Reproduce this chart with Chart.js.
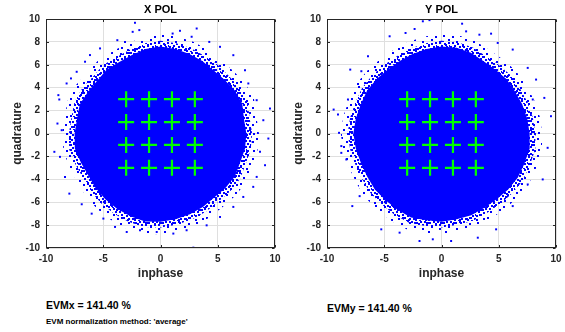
<!DOCTYPE html>
<html>
<head>
<meta charset="utf-8">
<script src="https://cdn.jsdelivr.net/npm/chart.js@4.4.1/dist/chart.umd.min.js"></script>
<style>
  html, body { margin: 0; padding: 0; background: #fff; width: 565px; height: 332px; overflow: hidden; }
  body { position: relative; font-family: "Liberation Sans", Arial, sans-serif; }
  .panel { position: absolute; top: 0; width: 290px; height: 290px; }
  #panelX { left: 0; }
  #panelY { left: 281px; }
  .note { position: absolute; font-weight: bold; color: #000; white-space: nowrap; }
  #evmx { left: 46px; top: 299px; font-size: 10.5px; line-height: 12px; }
  #evmnorm { left: 46px; top: 317px; font-size: 8px; line-height: 9px; }
  #evmy { left: 327px; top: 302px; font-size: 10.5px; line-height: 12px; }
</style>
</head>
<body>
<div class="panel" id="panelX"><canvas id="chartX" width="290" height="290"></canvas></div>
<div class="panel" id="panelY"><canvas id="chartY" width="290" height="290"></canvas></div>
<div class="note" id="evmx"></div>
<div class="note" id="evmnorm"></div>
<div class="note" id="evmy"></div>

<script>
// ---- constellation reference points (16-QAM grid) ----
const idealI = [-3, -1, 1, 3];
const idealQ = [3, 1, -1, -3];

// ---- axis ticks ----
const inphaseTicks = [-10, -5, 0, 5, 10];
const quadratureTicks = [-10, -8, -6, -4, -2, 0, 2, 4, 6, 8, 10];

// ---- received-symbol cloud outline: radius at each bearing ----
const edgeBearingDeg = [0, 10, 20, 30, 40, 50, 60, 70, 80, 90, 100, 110, 120, 130, 140, 150, 160, 170,
                        180, 190, 200, 210, 220, 230, 240, 250, 260, 270, 280, 290, 300, 310, 320, 330, 340, 350];

// X polarisation: solid core, dense fringe, sparse fringe
const xCoreR   = [7.5, 7.4, 7.6, 7.5, 7.3, 7.2, 7.3, 7.4, 7.5, 7.6, 7.5, 7.3, 7.2, 7.3, 7.2, 7.3, 7.5, 7.4,
                  7.5, 7.6, 7.4, 7.3, 7.4, 7.5, 7.6, 7.7, 7.8, 7.7, 7.6, 7.5, 7.4, 7.3, 7.4, 7.5, 7.4, 7.5];
const xDenseR  = [8.0, 7.9, 8.1, 8.0, 7.8, 7.8, 7.8, 7.9, 8.0, 8.1, 8.0, 7.8, 7.7, 7.8, 7.7, 7.9, 8.0, 7.9,
                  8.0, 8.1, 7.9, 7.8, 7.9, 8.0, 8.1, 8.2, 8.3, 8.2, 8.1, 8.0, 7.9, 7.8, 7.9, 8.0, 7.9, 8.0];
const xSparseR = [8.6, 8.5, 8.7, 8.6, 8.4, 8.3, 8.4, 8.5, 8.6, 8.7, 8.5, 8.4, 8.3, 8.4, 8.3, 8.5, 8.6, 8.5,
                  8.6, 8.6, 8.5, 8.4, 8.5, 8.6, 8.7, 8.8, 8.9, 8.8, 8.7, 8.6, 8.5, 8.4, 8.5, 8.6, 8.5, 8.6];

// Y polarisation
const yCoreR   = [7.7, 7.6, 7.5, 7.4, 7.4, 7.3, 7.3, 7.5, 7.6, 7.6, 7.5, 7.4, 7.3, 7.3, 7.4, 7.5, 7.5, 7.6,
                  7.7, 7.6, 7.5, 7.5, 7.6, 7.6, 7.7, 7.8, 7.7, 7.7, 7.6, 7.6, 7.5, 7.5, 7.6, 7.7, 7.7, 7.8];
const yDenseR  = [8.2, 8.1, 8.0, 7.9, 7.9, 7.8, 7.8, 8.0, 8.1, 8.1, 8.0, 7.9, 7.8, 7.8, 7.9, 8.0, 8.0, 8.1,
                  8.2, 8.1, 8.0, 8.0, 8.1, 8.1, 8.2, 8.3, 8.2, 8.2, 8.1, 8.1, 8.0, 8.0, 8.1, 8.2, 8.2, 8.3];
const ySparseR = [8.8, 8.7, 8.6, 8.5, 8.5, 8.4, 8.4, 8.6, 8.7, 8.7, 8.6, 8.5, 8.4, 8.4, 8.5, 8.6, 8.6, 8.7,
                  8.8, 8.7, 8.6, 8.6, 8.7, 8.7, 8.8, 8.9, 8.8, 8.8, 8.7, 8.7, 8.6, 8.6, 8.7, 8.8, 8.8, 8.9];

// ---- isolated outlying symbols [inphase, quadrature] ----
const xOutliers = [
  [-2.23, 9.67], [-2.43, 8.88], [-1.85, 9.03], [-3.1, 8.0], [-3.77, 8.15], [1.70, 8.97], [1.06, 8.73],
  [3.16, 9.17], [2.72, 8.45], [4.26, 8.0], [5.2, 7.57], [6.36, 6.84], [7.38, 5.53], [7.67, 4.37],
  [8.4, 2.91], [9.56, 2.18], [8.98, 1.16], [9.42, -0.44], [8.69, -1.6], [9.13, -2.77], [8.4, -3.79],
  [8.1, -4.66], [7.23, -5.54], [6.36, -6.41], [5.2, -7.29], [4.03, -8.02], [2.87, -9.97], [2.28, -8.45],
  [1.12, -8.74], [-0.33, -8.6], [-1.79, -8.45], [-2.95, -8.6], [-3.97, -8.16], [-4.99, -7.43],
  [-6.01, -7.0], [-6.88, -6.18], [-7.96, -5.25], [-8.34, -3.79], [-8.78, -2.04], [-9.27, -1.6],
  [-9.0, 0.87], [-8.63, 0.29], [-8.84, 2.97], [-8.92, 3.35], [-8.2, 4.37], [-7.82, 4.81],
  [-7.32, 5.39], [-6.59, 6.27], [-6.16, 6.85], [-5.28, 7.43]
];
const yOutliers = [
  [-1.63, 9.8], [-1.05, 9.9], [1.8, 9.59], [-4.53, 8.49], [-3.14, 8.78], [-2.35, 9.13], [4.33, 8.72],
  [4.91, 7.91], [-7.97, 5.58], [-7.0, 5.44], [-9.42, 2.09], [-9.04, 1.66], [-8.95, 0.06], [-8.75, -1.69],
  [-8.31, -2.27], [-7.79, -6.34], [-7.15, -5.47], [-5.26, -8.37], [-3.66, -8.66], [-1.92, -9.39],
  [0.84, -9.39], [3.17, -9.1], [6.22, -6.34], [7.53, -4.45], [8.84, -4.01], [9.56, 1.51], [8.98, 3.11],
  [8.26, 4.71], [7.53, 5.73], [6.22, 7.33], [-6.42, 6.74], [-8.75, -1.1], [9.27, -1.25], [2.15, 8.92],
  [3.31, 8.63], [-0.76, -9.24], [4.77, -8.37], [7.97, 2.97], [-8.17, 2.97]
];

// ---- EVM results ----
const evmX = 141.40;
const evmY = 141.40;
const evmMethod = 'average';

document.getElementById('evmx').textContent = 'EVMx = ' + evmX.toFixed(2) + ' %';
document.getElementById('evmnorm').textContent = "EVM normalization method: '" + evmMethod + "'";
document.getElementById('evmy').textContent = 'EVMy = ' + evmY.toFixed(2) + ' %';

// ---- helpers ----
const BLUE = '#0000ff';
const GREEN = '#00ff00';
const INK = '#262626';
Chart.defaults.font.family = '"Liberation Sans", Arial, sans-serif';

function outline(radii) {
  const pts = radii.map((r, i) => {
    const a = edgeBearingDeg[i] * Math.PI / 180;
    return { x: r * Math.cos(a), y: r * Math.sin(a) };
  });
  pts.push({ x: pts[0].x, y: pts[0].y });
  return pts;
}

// speckled fills for the thinning edge of the cloud
function dotPattern(size, dots) {
  const c = document.createElement('canvas');
  c.width = c.height = size;
  const g = c.getContext('2d');
  g.fillStyle = BLUE;
  dots.forEach(([px, py]) => g.fillRect(px, py, 2, 2));
  return g.createPattern(c, 'repeat');
}
const denseFill = dotPattern(13, [[0, 0], [5, 1], [9, 0], [2, 3], [7, 4], [11, 3], [4, 6], [0, 7],
                                  [9, 7], [6, 9], [2, 10], [11, 10], [8, 12], [4, 11], [12, 6], [3, 1]]);
const sparseFill = dotPattern(17, [[1, 2], [9, 1], [14, 5], [5, 7], [11, 10], [2, 13], [8, 15], [15, 14]]);

const idealPoints = [];
idealQ.forEach(q => idealI.forEach(i => idealPoints.push({ x: i, y: q })));

// frame box, inward tick marks and panel title
const framePlugin = {
  id: 'frame',
  afterDraw(chart, args, opts) {
    const { ctx, chartArea: a, scales } = chart;
    ctx.save();
    ctx.strokeStyle = INK;
    ctx.lineWidth = 1;
    const L = Math.round(a.left) + 0.5, T = Math.round(a.top) + 0.5;
    const R = Math.round(a.right) - 0.5, B = Math.round(a.bottom) - 0.5;
    ctx.strokeRect(L, T, R - L, B - T);
    ctx.beginPath();
    scales.x.ticks.forEach(t => {
      const px = Math.round(scales.x.getPixelForValue(t.value)) + 0.5;
      ctx.moveTo(px, B); ctx.lineTo(px, B - 2.5);
      ctx.moveTo(px, T); ctx.lineTo(px, T + 2.5);
    });
    scales.y.ticks.forEach(t => {
      const py = Math.round(scales.y.getPixelForValue(t.value)) + 0.5;
      ctx.moveTo(L, py); ctx.lineTo(L + 2.5, py);
      ctx.moveTo(R, py); ctx.lineTo(R - 2.5, py);
    });
    ctx.stroke();
    ctx.fillStyle = '#000';
    ctx.font = 'bold 11px "Liberation Sans", Arial, sans-serif';
    ctx.textAlign = 'center';
    ctx.textBaseline = 'middle';
    ctx.fillText(opts.text, (a.left + a.right) / 2, 10);
    ctx.restore();
  }
};

function makeChart(canvasId, title, coreR, denseR, sparseR, outliers) {
  return new Chart(document.getElementById(canvasId), {
    type: 'scatter',
    data: {
      datasets: [
        { label: 'reference', data: idealPoints, pointStyle: 'cross', pointRadius: 8,
          borderColor: GREEN, borderWidth: 2.2, backgroundColor: GREEN },
        { label: 'outliers', data: outliers.map(([x, y]) => ({ x, y })), pointStyle: 'rect',
          pointRadius: 1.4, borderWidth: 0, backgroundColor: BLUE },
        { label: 'core', data: outline(coreR), showLine: true, fill: 'shape', tension: 0,
          borderWidth: 0, pointRadius: 0, backgroundColor: BLUE, borderColor: BLUE },
        { label: 'fringe', data: outline(denseR), showLine: true, fill: 'shape', tension: 0,
          borderWidth: 0, pointRadius: 0, backgroundColor: denseFill, borderColor: 'rgba(0,0,0,0)' },
        { label: 'halo', data: outline(sparseR), showLine: true, fill: 'shape', tension: 0,
          borderWidth: 0, pointRadius: 0, backgroundColor: sparseFill, borderColor: 'rgba(0,0,0,0)' }
      ]
    },
    options: {
      responsive: false,
      animation: false,
      devicePixelRatio: 1,
      layout: { padding: { top: 19, right: 15, left: 0, bottom: 0 } },
      plugins: { legend: { display: false }, tooltip: { enabled: false }, frame: { text: title } },
      scales: {
        x: {
          type: 'linear', min: -10, max: 10,
          afterBuildTicks: s => { s.ticks = inphaseTicks.map(v => ({ value: v })); },
          afterFit: s => { s.height = 42; },
          ticks: { color: INK, padding: 5, font: { size: 10, weight: 'bold' }, maxRotation: 0 },
          grid: { color: '#dfdfdf', drawTicks: false, lineWidth: 1 },
          border: { display: false },
          title: { display: true, text: 'inphase', color: INK, font: { size: 12, weight: 'bold' },
                   padding: { top: 0, bottom: 9 } }
        },
        y: {
          type: 'linear', min: -10, max: 10,
          afterBuildTicks: s => { s.ticks = quadratureTicks.map(v => ({ value: v })); },
          afterFit: s => { s.width = 46; },
          ticks: { color: INK, padding: 6, font: { size: 10, weight: 'bold' } },
          grid: { color: '#dfdfdf', drawTicks: false, lineWidth: 1 },
          border: { display: false },
          title: { display: true, text: 'quadrature', color: INK, font: { size: 12, weight: 'bold' },
                   padding: { top: 10, bottom: 0 } }
        }
      }
    },
    plugins: [framePlugin]
  });
}

makeChart('chartX', 'X POL', xCoreR, xDenseR, xSparseR, xOutliers);
makeChart('chartY', 'Y POL', yCoreR, yDenseR, ySparseR, yOutliers);
</script>
</body>
</html>
